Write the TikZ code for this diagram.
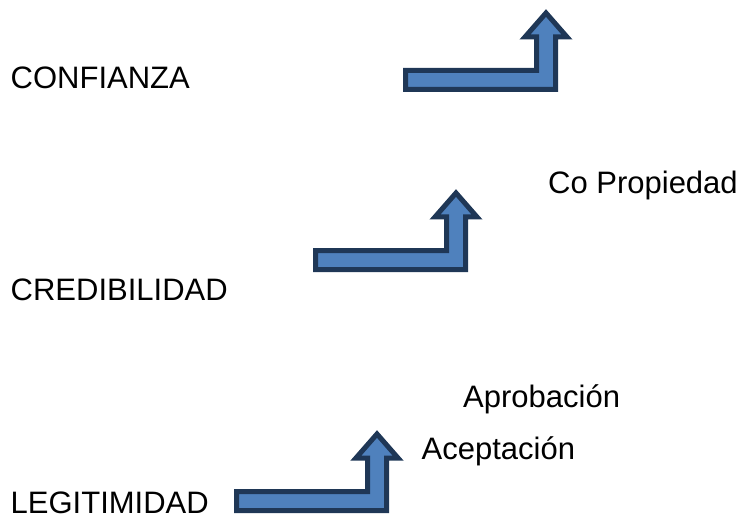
\documentclass[tikz,border=0pt]{standalone}
\usepackage{fontspec}
\setmainfont{Liberation Sans}
\usepackage{tikz}
\usetikzlibrary{calc}

\definecolor{arrowfill}{HTML}{4F81BD}
\definecolor{arrowline}{HTML}{1F3756}

\begin{document}
\begin{tikzpicture}[x=1pt, y=-1pt]

                % Styles for the step arrows and the labels
                \tikzset{
                    steparrow/.style={fill=arrowfill, draw=arrowline, line width=5pt, line join=miter},
                    steptext/.style={anchor=base west, inner sep=0pt, font=\fontsize{31}{36}\selectfont},
                    pics/stairarrow/.style={code={
                        \draw[steparrow] (0, 0) -- (0, -19) -- (131, -19) -- (131, -52.5)
                            -- (119.5, -52.5) -- (140.5, -76.5) -- (161.5, -52.5)
                            -- (150, -52.5) -- (150, 0) -- cycle;
                    }}
                }

                % Fixes the page to the size of the picture
                \useasboundingbox (0, 0) rectangle (737, 516);

                % Step arrows, placed from their lower left corner
                \begin{scope}
                    \pic at (405.5, 89.5) {stairarrow};
                    \pic at (315.5, 269.5) {stairarrow};
                    \pic at (236.5, 510.5) {stairarrow};
                \end{scope}

                % Levels on the left
                \begin{scope}
                    \node (conf) at (10.5, 89) [steptext] {CONFIANZA};
                    \node (cred) at (10.5, 300.7) [steptext] {CREDIBILIDAD};
                    \node (legit) at (10.5, 513) [steptext] {LEGITIMIDAD};
                \end{scope}

                % Steps on the right
                \begin{scope}
                    \node (copro) at (548, 194) [steptext] {Co Propiedad};
                    \node (aprob) at (463, 407) [steptext] {Aprobación};
                    \node (acept) at (421.5, 459) [steptext] {Aceptación};
                \end{scope}

\end{tikzpicture}
\end{document}
